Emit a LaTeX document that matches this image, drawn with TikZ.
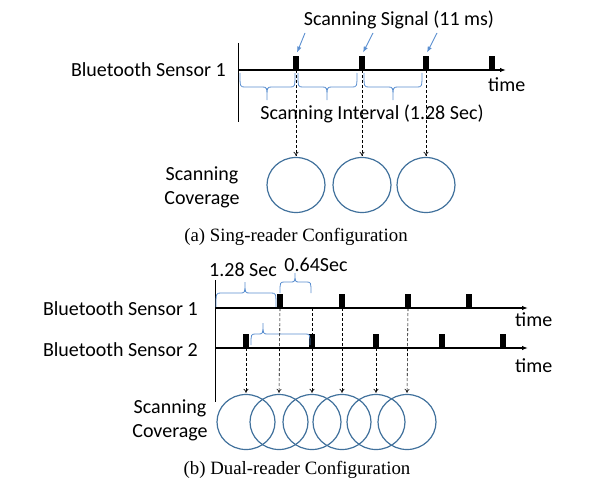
\documentclass[tikz,border=0pt]{standalone}
\usepackage{fontspec}
\setmainfont{Liberation Serif}
\newfontfamily\labelfont{Carlito}
\usetikzlibrary{arrows.meta,shapes.geometric}

\definecolor{cblue}{HTML}{41719C}
\definecolor{bblue}{HTML}{5B8FD0}

% curly brace: x1, x2, x of tip, y of ends, y of bar, y of tip
\newcommand{\curly}[6]{%
  \draw[brc] (#1,#4) .. controls (#1,#5) .. (#1+5,#5) -- (#3-5,#5)
    .. controls (#3,#5) .. (#3,#6) .. controls (#3,#5) .. (#3+5,#5)
    -- (#2-5,#5) .. controls (#2,#5) .. (#2,#4);}

\tikzset{
  lbl/.style={font=\labelfont\fontsize{20}{24}\selectfont, inner sep=0pt},
  captxt/.style={font=\fontsize{18.8}{22}\selectfont, inner sep=0pt},
  pulse/.style={fill=black, minimum width=6pt, minimum height=14pt, inner sep=0pt, anchor=south},
  axisline/.style={line width=1.3pt, -{Latex[length=6pt,width=4.5pt]}},
  cover/.style={draw=cblue, line width=1.2pt, ellipse, minimum width=58pt, minimum height=55pt, inner sep=0pt},
  scanarr/.style={densely dashed, line width=0.6pt, -{To[length=4pt,width=5pt]}, shorten >=1pt},
  brc/.style={draw=bblue, line width=0.8pt},
  sigarr/.style={draw=bblue, line width=0.9pt, -{Latex[length=6pt,width=4.5pt]}}
}

\begin{document}
\begin{tikzpicture}[x=1pt,y=-1pt]
  \useasboundingbox (0,0) rectangle (601,487);

  % (a) single reader
  \draw[line width=1pt] (238,43) -- (238,122);
  \coordinate (a0) at (238,70);
  \coordinate (a1) at (506,70);
  \draw[axisline] (a0) -- (a1);
  \node[lbl, anchor=east] (sa) at (226,70) {Bluetooth Sensor 1};
  \node[lbl, anchor=west] (ta) at (488,85) {time};
  \node[pulse] (p1) at (296,70) {};
  \node[pulse] (p2) at (362,70) {};
  \node[pulse] (p3) at (426,70) {};
  \node[pulse] (p4) at (492,70) {};
  \node[lbl] (sig) at (399,20) {Scanning Signal (11 ms)};
  \coordinate (g1) at (305,33);
  \coordinate (g2) at (373,33);
  \coordinate (g3) at (437,33);
  \draw[sigarr] (g1) -- ([xshift=1pt,yshift=3pt]p1.north);
  \draw[sigarr] (g2) -- ([xshift=1pt,yshift=3pt]p2.north);
  \draw[sigarr] (g3) -- ([xshift=1pt,yshift=3pt]p3.north);
  \curly{240}{295}{267}{73}{87}{100}
  \curly{298}{357}{327}{73}{87}{100}
  \curly{364}{422}{393}{73}{87}{100}
  \node[lbl] (int) at (372,114) {Scanning Interval (1.28 Sec)};
  \node[cover] (c1) at (296,185) {};
  \node[cover] (c2) at (362,185) {};
  \node[cover] (c3) at (426,185) {};
  \draw[scanarr] (p1.south) -- (c1.north);
  \draw[scanarr] (p2.south) -- (c2.north);
  \draw[scanarr] (p3.south) -- (c3.north);
  \node[lbl, align=center] (cova) at (202,187) {Scanning\\Coverage};
  \node[captxt] (capa) at (296,237) {(a) Sing-reader Configuration};

  % (b) dual reader
  \draw[line width=1pt] (215,280) -- (215,402);
  \coordinate (b0) at (215,308);
  \coordinate (b1) at (528,308);
  \coordinate (d0) at (215,348);
  \coordinate (d1) at (528,348);
  \draw[axisline] (b0) -- (b1);
  \draw[axisline] (d0) -- (d1);
  \node[lbl, anchor=east] (sb1) at (198,309) {Bluetooth Sensor 1};
  \node[lbl, anchor=east] (sb2) at (198,350) {Bluetooth Sensor 2};
  \node[lbl, anchor=west] (tb1) at (515,320) {time};
  \node[lbl, anchor=west] (tb2) at (515,366) {time};
  \node[pulse] (r1) at (280,308) {};
  \node[pulse] (r2) at (342,308) {};
  \node[pulse] (r3) at (408,308) {};
  \node[pulse] (r4) at (469,308) {};
  \node[pulse] (q1) at (246,348) {};
  \node[pulse] (q2) at (312,348) {};
  \node[pulse] (q3) at (376,348) {};
  \node[pulse] (q4) at (442,348) {};
  \node[pulse] (q5) at (503,348) {};
  \curly{216}{276}{245}{307}{293}{282}
  \curly{280}{311}{295}{293}{282}{273}
  \curly{251}{310}{263}{345}{334}{323}
  \node[lbl] (l128) at (243,270) {1.28 Sec};
  \node[lbl] (l064) at (316,265) {0.64Sec};
  \node[cover] (e1) at (246,422) {};
  \node[cover] (e2) at (279,422) {};
  \node[cover] (e3) at (312,422) {};
  \node[cover] (e4) at (342,422) {};
  \node[cover] (e5) at (376,422) {};
  \node[cover] (e6) at (407,422) {};
  \draw[scanarr] (q1.south) -- (e1.north);
  \draw[scanarr] (r1.south) -- (e2.north);
  \draw[scanarr] (q2 |- b0) -- (e3.north);
  \draw[scanarr] (r2.south) -- (e4.north);
  \draw[scanarr] (q3.south) -- (e5.north);
  \draw[scanarr] (r3.south) -- (e6.north);
  \node[lbl, align=center] (covb) at (170,420) {Scanning\\Coverage};
  \node[captxt] (capb) at (297,470) {(b) Dual-reader Configuration};
\end{tikzpicture}
\end{document}
